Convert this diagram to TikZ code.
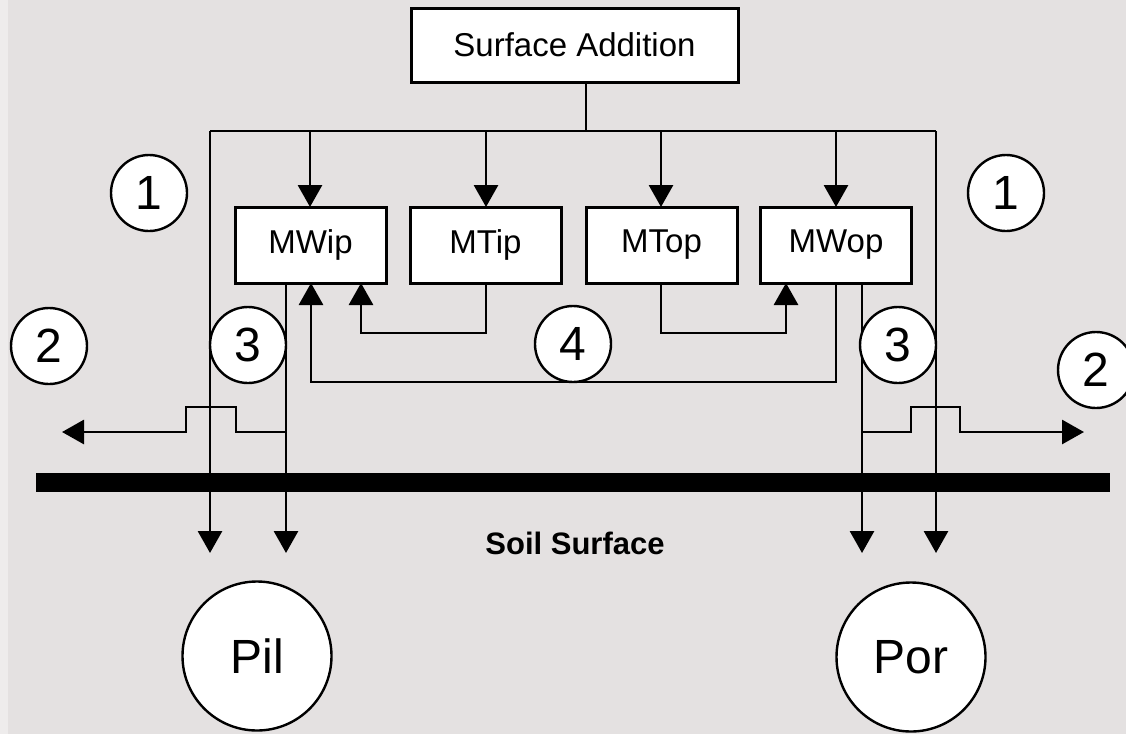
\documentclass[tikz,border=0pt]{standalone}
\usepackage{fontspec}
\setmainfont{Liberation Sans}
\usetikzlibrary{arrows.meta}
\definecolor{bg}{RGB}{228,225,225}
\definecolor{bgedge}{RGB}{238,236,236}
\tikzset{
  ln/.style={line width=2.9pt},
  arr/.style={line width=2.9pt,-{Triangle[length=22pt,width=24pt]}},
  mbox/.style={draw,line width=3pt,fill=white,minimum width=151pt,minimum height=76pt,inner sep=0pt,font=\fontsize{33}{38}\selectfont},
  num/.style={draw,circle,line width=2.4pt,fill=white,minimum size=76pt,inner sep=0pt,font=\fontsize{48}{52}\selectfont},
  pool/.style={draw,circle,line width=2.4pt,fill=white,minimum size=149pt,inner sep=0pt,font=\fontsize{48}{52}\selectfont},
}
\begin{document}
\begin{tikzpicture}[x=1pt,y=-1pt]
\useasboundingbox (0,0) rectangle (1126,734);
\fill[bg] (0,0) rectangle (1126,734);
\fill[bgedge] (0,0) rectangle (8,734);

% boxes
\node[mbox,minimum width=327pt,minimum height=74pt] (sa) at (574.5,45) {Surface Addition};
\node[mbox] (mwip) at (310.5,245) {MWip};
\node[mbox] (mtip) at (485.5,245) {MTip};
\node[mbox] (mtop) at (661.5,245) {MTop};
\node[mbox] (mwop) at (836,245) {MWop};

% soil surface bar
\node[fill=black,minimum width=1074pt,minimum height=19pt,inner sep=0pt] (soil) at (573,482.5) {};
\node[font=\bfseries\fontsize{31}{36}\selectfont] (soiltxt) at (575,543) {Soil Surface};

% coordinates
\coordinate (top) at (586,131);
\coordinate (jl) at (210,131);
\coordinate (jr) at (936,131);
\coordinate (pl1) at (210,553);
\coordinate (pl2) at (286,553);
\coordinate (pr1) at (862,553);
\coordinate (pr2) at (936,553);
\coordinate (ra) at (311,382);
\coordinate (ta) at (361,333);
\coordinate (tb) at (786,333);
\coordinate (lx) at (286,432);
\coordinate (rx) at (862,432);
\coordinate (lend) at (62,432);
\coordinate (rend) at (1084,432);

% distribution from surface addition
\draw[ln] (sa.south -| top) -- (top);
\draw[ln] (jl) -- (jr);
\draw[arr] (jl |- top) -- (pl1);
\draw[arr] (jr) -- (pr2);
\draw[arr] (310,131) -- (310,207);
\draw[arr] (486,131) -- (486,207);
\draw[arr] (661,131) -- (661,207);
\draw[arr] (836,131) -- (836,207);

% transfers between boxes
\draw[arr] (486,283) -- (486,333) -- (ta) -- (361,283);
\draw[arr] (661,283) -- (661,333) -- (tb) -- (786,283);
\draw[arr] (836,283) -- (836,382) -- (ra) -- (311,283);

% runoff / infiltration
\draw[arr] (286,283) -- (pl2);
\draw[arr] (862,283) -- (pr1);
\draw[arr] (lx) -- (236,432) -- (236,407) -- (186,407) -- (186,432) -- (lend);
\draw[arr] (rx) -- (911,432) -- (911,407) -- (960,407) -- (960,432) -- (rend);

% numbered circles
\node[num] (n1l) at (149,193) {1};
\node[num] (n1r) at (1006,193) {1};
\node[num] (n2l) at (49,346) {2};
\node[num] (n2r) at (1096,370) {2};
\node[num] (n3l) at (248,345) {3};
\node[num] (n3r) at (898,345) {3};
\node[num] (n4) at (573,344) {4};

% pools
\node[pool] (pil) at (257,656) {Pil};
\node[pool] (por) at (911,657) {Por};
\end{tikzpicture}
\end{document}
